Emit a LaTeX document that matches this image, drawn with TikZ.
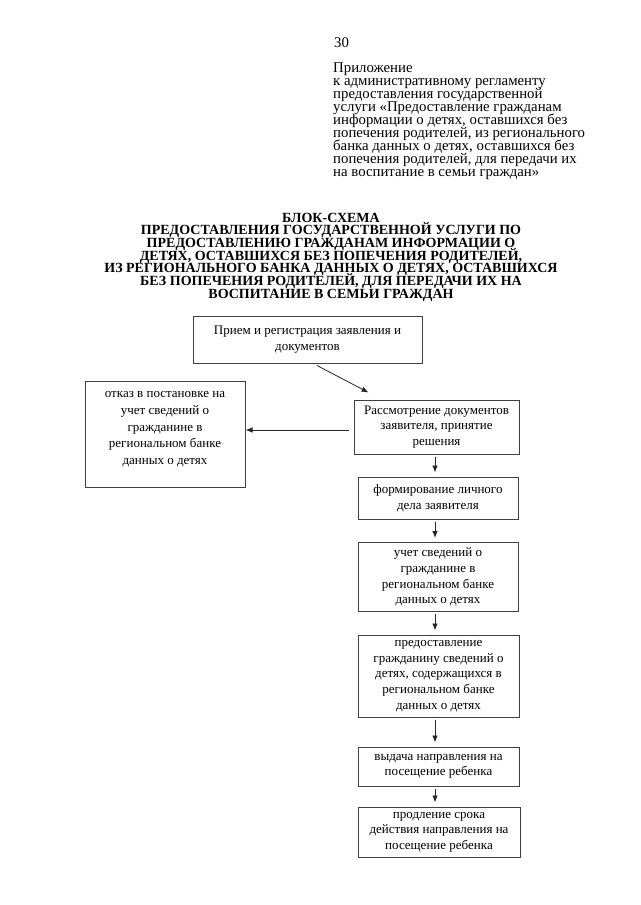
\documentclass[tikz,border=0pt]{standalone}
\usepackage{fontspec}
\setmainfont{Liberation Serif}
\usetikzlibrary{arrows.meta,calc}
\newcommand{\tightlines}{\setlength{\lineskiplimit}{-20pt}}
\tikzset{
  procbox/.style={rectangle,draw=black!75,line width=1pt,fill=white,
    align=center,inner sep=0pt,
    font={\fontsize{13}{15.6}\selectfont\tightlines},
    execute at begin node={\rule{0pt}{15pt}}},
  flowarrow/.style={-{Latex[length=7pt,width=5.5pt]},line width=0.8pt,
    draw=black!85}
}

\begin{document}
\begin{tikzpicture}[x=1pt,y=-1pt]
  \useasboundingbox[fill=white] (0,0) rectangle (640,905);

  % header
  \node[anchor=west,inner sep=0pt,font=\fontsize{14.8}{13}\selectfont]
    (pagenum) at (334,43) {30};
  \node[anchor=north west,align=left,inner sep=0pt,
    font={\fontsize{14.8}{13}\selectfont\tightlines}]
    (appendix) at (333,63)
    {Приложение\\
     к административному регламенту\\
     предоставления государственной\\
     услуги «Предоставление гражданам\\
     информации о детях, оставшихся без\\
     попечения родителей, из регионального\\
     банка данных о детях, оставшихся без\\
     попечения родителей, для передачи их\\
     на воспитание в семьи граждан»};

  % title
  \node[align=center,inner sep=0pt,
    font={\bfseries\fontsize{14}{12.7}\selectfont\tightlines}]
    (title) at (331,257)
    {БЛОК-СХЕМА\\
     ПРЕДОСТАВЛЕНИЯ ГОСУДАРСТВЕННОЙ УСЛУГИ ПО\\
     ПРЕДОСТАВЛЕНИЮ ГРАЖДАНАМ ИНФОРМАЦИИ О\\
     ДЕТЯХ, ОСТАВШИХСЯ БЕЗ ПОПЕЧЕНИЯ РОДИТЕЛЕЙ,\\
     ИЗ РЕГИОНАЛЬНОГО БАНКА ДАННЫХ О ДЕТЯХ, ОСТАВШИХСЯ\\
     БЕЗ ПОПЕЧЕНИЯ РОДИТЕЛЕЙ, ДЛЯ ПЕРЕДАЧИ ИХ НА\\
     ВОСПИТАНИЕ В СЕМЬИ ГРАЖДАН};

  % blocks
  \node[procbox,minimum width=229pt,minimum height=47pt] (priem)
    at (307.5,339.5) {Прием и регистрация заявления и\\документов};
  \node[procbox,minimum width=160pt,minimum height=106pt,
    font={\fontsize{13}{16.6}\selectfont\tightlines}] (otkaz)
    at (165,434) {отказ в постановке на\\учет сведений о\\гражданине в\\
     региональном банке\\данных о детях\\[-4.5pt]};
  \node[procbox,minimum width=165pt,minimum height=54pt] (rassm)
    at (436.5,427) {Рассмотрение документов\\заявителя, принятие\\решения};
  \node[procbox,minimum width=160pt,minimum height=42pt] (form)
    at (438,498) {формирование личного\\дела заявителя};
  \node[procbox,minimum width=160pt,minimum height=69pt] (uchet)
    at (438,577) {учет сведений о\\гражданине в\\региональном банке\\
     данных о детях};
  \node[procbox,minimum width=161pt,minimum height=82pt] (predost)
    at (438.5,676) {предоставление\\гражданину сведений о\\
     детях, содержащихся в\\региональном банке\\данных о детях};
  \node[procbox,minimum width=161pt,minimum height=39pt] (vydacha)
    at (438.5,766.5) {выдача направления на\\посещение ребенка};
  \node[procbox,minimum width=162pt,minimum height=50pt] (prodl)
    at (439,832) {продление срока\\действия направления на\\
     посещение ребенка};

  % arrows
  \coordinate (axis) at (435,0);
  \coordinate (rassmout) at ([yshift=-3pt]rassm.west);
  \draw[flowarrow] ([xshift=9.5pt,yshift=-2pt]priem.south) --
    ([xshift=-68pt,yshift=7pt]rassm.north);
  \draw[flowarrow,shorten <=5pt] (rassmout) -- (rassmout -| otkaz.east);
  \foreach \from/\to in {rassm/form,form/uchet,uchet/predost,
    predost/vydacha,vydacha/prodl}
    \draw[flowarrow,shorten <=2pt,shorten >=4pt]
      (\from.south -| axis) -- (\to.north -| axis);
\end{tikzpicture}
\end{document}
